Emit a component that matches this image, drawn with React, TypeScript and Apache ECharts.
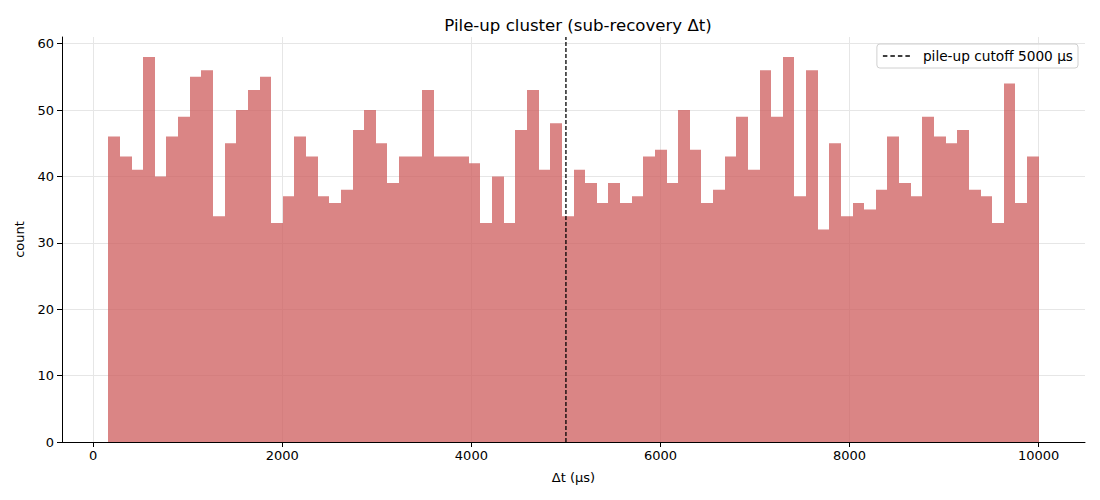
import React, { useEffect, useRef } from "react";
import * as echarts from "echarts";

const binStart = 160;
const binWidth = 123;
const counts = [
  46, 43, 41, 58, 40, 46, 49, 55, 56, 34,
  45, 50, 53, 55, 33, 37, 46, 43, 37, 36,
  38, 47, 50, 45, 39, 43, 43, 53, 43, 43,
  43, 42, 33, 40, 33, 47, 53, 41, 48, 34,
  41, 39, 36, 39, 36, 37, 43, 44, 39, 50,
  44, 36, 38, 43, 49, 41, 56, 49, 58, 37,
  56, 32, 45, 34, 36, 35, 38, 46, 39, 37,
  49, 46, 45, 47, 38, 37, 33, 54, 36, 43,
];
const xTicks = [0, 2000, 4000, 6000, 8000, 10000];
const yTicks = [0, 10, 20, 30, 40, 50, 60];
const cutoff = 5000;
const legendName = "pile-up cutoff 5000 µs";

export default function App() {
  const ref = useRef<HTMLDivElement>(null);
  useEffect(() => {
    if (!ref.current) return;
    const chart = echarts.init(ref.current, null, { renderer: "svg" });
    const font = "DejaVu Sans";
    const bins = counts.map((c, i) => [binStart + i * binWidth, binStart + (i + 1) * binWidth, c]);
    const gridLine = { show: true, lineStyle: { color: "#e6e6e6", width: 1 } };
    chart.setOption({
      animation: false,
      textStyle: { fontFamily: font },
      title: {
        text: "Pile-up cluster (sub-recovery Δt)",
        left: 573,
        textAlign: "center",
        top: 12,
        textStyle: { fontFamily: font, fontSize: 16.6, fontWeight: "normal", color: "#000" },
      },
      legend: {
        right: 22,
        top: 44,
        orient: "vertical",
        backgroundColor: "rgba(255,255,255,0.8)",
        borderColor: "#d0d0d0",
        borderWidth: 1,
        borderRadius: 3,
        padding: [5, 5, 5, 6],
        itemWidth: 27,
        itemHeight: 1.4,
        itemGap: 6,
        textStyle: { fontFamily: font, fontSize: 13.7, color: "#000", padding: [0, 0, 0, 8] },
        data: [
          {
            name: legendName,
            icon: "path://M0,0h4.5v1.4h-4.5z M7.5,0h4.5v1.4h-4.5z M15,0h4.5v1.4h-4.5z M22.5,0h4.5v1.4h-4.5z",
            itemStyle: { color: "#000" },
          },
        ],
      },
      grid: { left: 62, right: 15, top: 37, bottom: 58, containLabel: false },
      xAxis: {
        type: "value",
        min: -330,
        max: 10490,
        name: "Δt (µs)",
        nameLocation: "middle",
        nameGap: 29,
        nameTextStyle: { fontFamily: font, fontSize: 13, color: "#000" },
        axisLine: { show: true, onZero: false, lineStyle: { color: "#000", width: 1 } },
        axisTick: { show: true, length: 5, customValues: xTicks, lineStyle: { color: "#000" } },
        axisLabel: {
          customValues: xTicks,
          formatter: (v: number) => String(v),
          fontFamily: font,
          fontSize: 13,
          color: "#000",
          margin: 7,
        },
        splitLine: gridLine,
      },
      yAxis: {
        type: "value",
        min: 0,
        max: 61,
        name: "count",
        nameLocation: "middle",
        nameGap: 36,
        nameTextStyle: { fontFamily: font, fontSize: 13, color: "#000" },
        axisLine: { show: true, onZero: false, lineStyle: { color: "#000", width: 1 } },
        axisTick: { show: true, length: 5, customValues: yTicks, lineStyle: { color: "#000" } },
        axisLabel: {
          customValues: yTicks,
          formatter: (v: number) => String(v),
          fontFamily: font,
          fontSize: 13,
          color: "#000",
          margin: 8,
        },
        splitLine: gridLine,
      },
      series: [
        {
          type: "custom",
          name: "counts",
          data: bins,
          encode: { x: [0, 1], y: 2 },
          renderItem: (params: any, api: any) => {
            const p0 = api.coord([api.value(0), api.value(2)]);
            const p1 = api.coord([api.value(1), 0]);
            const x0 = Math.round(p0[0]);
            const x1 = Math.round(p1[0]);
            return {
              type: "rect",
              shape: { x: x0, y: p0[1], width: x1 - x0, height: p1[1] - p0[1] },
              style: { fill: "rgba(205,92,92,0.75)" },
            };
          },
          z: 2,
        },
        {
          type: "line",
          name: legendName,
          data: [[cutoff, 0], [cutoff, 61]],
          symbol: "none",
          lineStyle: { color: "#000", width: 1.3, type: [4, 2] },
          itemStyle: { color: "#000" },
          z: 3,
        },
      ],
    });
    return () => chart.dispose();
  }, []);
  return <div ref={ref} style={{ position: "absolute", left: 0, top: 0, width: 1100, height: 500 }} />;
}
